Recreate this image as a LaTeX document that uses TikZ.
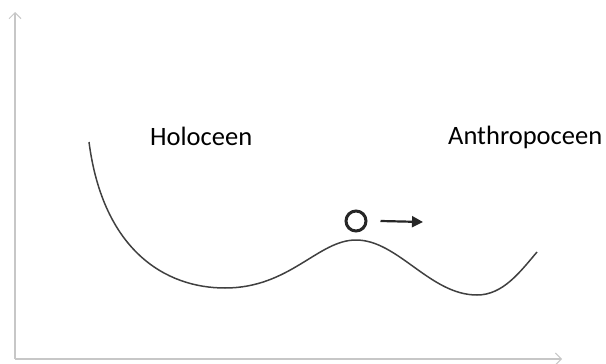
\documentclass[tikz,border=0pt]{standalone}
\usepackage{fontspec}
\setmainfont{Carlito}
\usetikzlibrary{arrows.meta}
\begin{document}
\begin{tikzpicture}[x=1pt, y=-1pt,
      every node/.style={font=\fontsize{26.5}{30}\selectfont, inner sep=0pt},
      axis/.style={draw=black!22, line width=1.4pt, -{Straight Barb[length=6pt, width=12pt, line width=1pt]}},
      landscape/.style={draw=black!75, line width=1.5pt},
      ball/.style={circle, draw=black!85, line width=3pt, minimum size=20pt},
      push/.style={draw=black!85, line width=2.2pt, -{Triangle[length=11pt, width=11pt]}},
      era/.style={anchor=base west, text=black}
  ]
    \useasboundingbox (0,0) rectangle (606,364);
    \coordinate (origin) at (15,359);
    \coordinate (ytop) at (15,12);
    \coordinate (xend) at (562,359);

    \draw[axis] (origin) -- (ytop);
    \draw[axis] (origin) -- (xend);

    \node[era] (holo) at (150,145) {Holoceen};
    \node[era] (anthro) at (448,144) {Anthropoceen};

    \draw[landscape] (89,142) .. controls (103,250) and (165,288) .. (225,288)
      .. controls (290,288) and (318,240) .. (356,240)
      .. controls (398,240) and (430,295) .. (477,295)
      .. controls (503,295) and (520,272) .. (537,252);

    \node[ball] (state) at (356,221) {};
    \coordinate (tip) at (423,222);
    \draw[push] ([xshift=13pt]state.east) -- (tip);
  \end{tikzpicture}
\end{document}
